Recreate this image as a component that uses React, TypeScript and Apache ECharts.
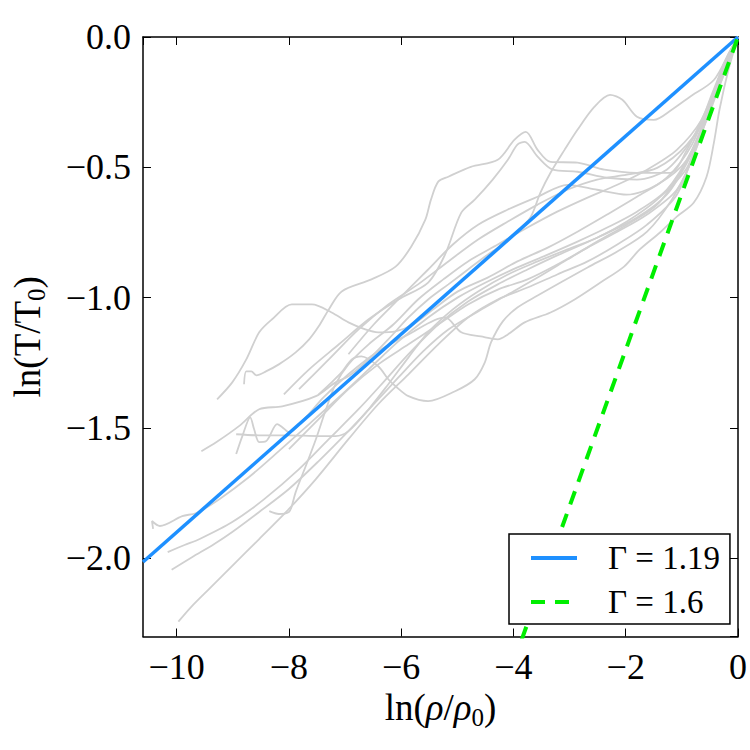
import React, { useEffect, useRef } from "react";
import * as echarts from "echarts";

// ---- data ----
const xRange: [number, number] = [-10.6, 0];
const yRange: [number, number] = [-2.3, 0];
const legendNames = ["Γ = 1.19", "Γ = 1.6"];
const fitLine: [number, number][] = [[-10.6, -2.014], [0, 0]];
const refLine: [number, number][] = [[-4.0, -2.4], [0, 0]];

const track01: [number, number][] = [[-9.97,-2.243],[-9.74,-2.186],[-9.42,-2.117],[-9.01,-2.029],[-8.53,-1.926],[-8.05,-1.822],[-7.52,-1.696],[-6.94,-1.543],[-6.41,-1.409],[-5.87,-1.294],[-5.34,-1.179],[-4.81,-1.076],[-4.28,-1.007],[-3.75,-0.961],[-3.22,-0.911],[-2.68,-0.861],[-2.15,-0.796],[-1.62,-0.720],[-1.09,-0.605],[-0.74,-0.413],[-0.42,-0.230],[-0.17,-0.088],[0,0]];
const track02: [number, number][] = [[-10.09,-2.044],[-9.72,-1.995],[-9.33,-1.945],[-9.01,-1.899],[-8.53,-1.822],[-8.00,-1.734],[-7.47,-1.627],[-6.94,-1.512],[-6.49,-1.409],[-6.05,-1.306],[-5.61,-1.206],[-5.16,-1.122],[-4.63,-1.053],[-4.10,-0.988],[-3.57,-0.923],[-3.04,-0.854],[-2.51,-0.785],[-1.98,-0.720],[-1.44,-0.643],[-1.00,-0.509],[-0.65,-0.356],[-0.35,-0.184],[0,0]];
const track03: [number, number][] = [[-10.16,-1.976],[-9.86,-1.949],[-9.59,-1.926],[-9.01,-1.861],[-8.44,-1.773],[-7.82,-1.658],[-7.29,-1.543],[-6.76,-1.428],[-6.32,-1.325],[-5.87,-1.217],[-5.34,-1.103],[-4.81,-1.015],[-4.28,-0.949],[-3.75,-0.892],[-3.22,-0.838],[-2.51,-0.770],[-1.80,-0.693],[-1.27,-0.605],[-0.88,-0.471],[-0.52,-0.299],[-0.24,-0.126],[0,0]];
const track04: [number, number][] = [[-10.42,-1.887],[-10.44,-1.857],[-10.30,-1.876],[-9.90,-1.838],[-9.65,-1.826],[-9.24,-1.773],[-8.71,-1.688],[-8.18,-1.589],[-7.64,-1.485],[-7.11,-1.382],[-6.58,-1.275],[-6.05,-1.168],[-5.52,-1.076],[-4.99,-0.999],[-4.46,-0.938],[-3.93,-0.884],[-3.39,-0.835],[-2.86,-0.785],[-2.33,-0.731],[-1.80,-0.670],[-1.27,-0.586],[-0.82,-0.433],[-0.47,-0.241],[-0.20,-0.096],[0,0]];
const track05: [number, number][] = [[-9.56,-1.589],[-9.29,-1.554],[-8.89,-1.493],[-8.53,-1.428],[-8.12,-1.417],[-7.52,-1.378],[-7.17,-1.325],[-6.94,-1.302],[-6.58,-1.237],[-6.23,-1.160],[-5.87,-1.076],[-5.52,-1.007],[-5.16,-0.949],[-4.81,-0.892],[-4.46,-0.835],[-4.19,-0.796],[-3.93,-0.747],[-3.69,-0.689],[-3.52,-0.597],[-3.34,-0.521],[-3.09,-0.433],[-2.86,-0.356],[-2.56,-0.268],[-2.28,-0.222],[-2.06,-0.241],[-1.80,-0.306],[-1.50,-0.318],[-1.18,-0.279],[-0.86,-0.230],[-0.43,-0.165],[-0.15,-0.057],[0,0]];
const track06: [number, number][] = [[-9.28,-1.390],[-9.01,-1.325],[-8.76,-1.237],[-8.53,-1.133],[-8.30,-1.083],[-7.95,-1.026],[-7.59,-1.026],[-7.24,-1.057],[-6.94,-1.095],[-6.64,-1.122],[-6.41,-1.133],[-6.10,-1.129],[-5.79,-1.103],[-5.43,-1.045],[-4.99,-0.976],[-4.46,-0.923],[-3.93,-0.861],[-3.39,-0.808],[-2.86,-0.747],[-2.33,-0.681],[-1.80,-0.613],[-1.27,-0.540],[-0.82,-0.413],[-0.47,-0.222],[-0.20,-0.080],[0,0]];
const track07: [number, number][] = [[-8.80,-1.332],[-8.76,-1.283],[-8.67,-1.283],[-8.58,-1.298],[-8.41,-1.283],[-8.18,-1.256],[-7.88,-1.210],[-7.64,-1.160],[-7.47,-1.110],[-7.29,-1.045],[-7.06,-0.976],[-6.53,-0.930],[-6.10,-0.881],[-5.82,-0.804],[-5.57,-0.701],[-5.47,-0.624],[-5.34,-0.555],[-5.16,-0.536],[-4.76,-0.498],[-4.28,-0.471],[-3.98,-0.394],[-3.78,-0.364],[-3.57,-0.433],[-3.34,-0.479],[-2.86,-0.482],[-2.38,-0.509],[-1.80,-0.521],[-1.21,-0.521],[-0.91,-0.433],[-0.65,-0.318],[-0.33,-0.165],[0,0]];
const track08: [number, number][] = [[-8.94,-1.600],[-8.83,-1.531],[-8.69,-1.459],[-8.62,-1.505],[-8.53,-1.554],[-8.41,-1.551],[-8.21,-1.485],[-8.12,-1.497],[-8.00,-1.516],[-7.73,-1.466],[-7.38,-1.382],[-6.94,-1.294],[-6.41,-1.206],[-5.87,-1.141],[-5.22,-1.076],[-4.93,-1.133],[-4.58,-1.149],[-4.28,-1.160],[-4.10,-1.141],[-3.80,-1.095],[-3.34,-1.057],[-2.91,-1.007],[-2.45,-0.942],[-2.03,-0.881],[-1.75,-0.815],[-1.39,-0.750],[-1.09,-0.689],[-0.79,-0.636],[-0.56,-0.536],[-0.43,-0.406],[-0.33,-0.279],[-0.17,-0.126],[0,0]];
const track09: [number, number][] = [[-8.35,-1.819],[-8.18,-1.830],[-8.00,-1.822],[-7.95,-1.800],[-7.88,-1.746],[-7.70,-1.646],[-7.52,-1.543],[-7.34,-1.428],[-7.17,-1.332],[-6.94,-1.256],[-6.58,-1.179],[-6.14,-1.103],[-5.70,-1.007],[-5.25,-0.930],[-4.81,-0.861],[-4.28,-0.796],[-3.75,-0.731],[-3.22,-0.670],[-2.68,-0.616],[-2.15,-0.567],[-1.62,-0.509],[-1.09,-0.433],[-0.65,-0.318],[-0.29,-0.145],[0,0]];
const track10: [number, number][] = [[-8.94,-1.524],[-8.53,-1.528],[-8.00,-1.528],[-7.47,-1.531],[-7.17,-1.531],[-6.94,-1.512],[-6.58,-1.428],[-6.23,-1.332],[-5.87,-1.229],[-5.52,-1.133],[-5.08,-1.045],[-4.63,-0.976],[-4.10,-0.911],[-3.57,-0.861],[-3.04,-0.815],[-2.51,-0.770],[-1.98,-0.708],[-1.44,-0.624],[-0.91,-0.502],[-0.56,-0.299],[-0.26,-0.119],[0,0]];
const track11: [number, number][] = [[-7.47,-1.371],[-7.24,-1.325],[-7.06,-1.286],[-6.88,-1.237],[-6.71,-1.225],[-6.41,-1.263],[-6.23,-1.313],[-6.10,-1.340],[-5.87,-1.378],[-5.52,-1.397],[-5.04,-1.359],[-4.69,-1.313],[-4.51,-1.248],[-4.40,-1.172],[-4.19,-1.091],[-3.93,-1.038],[-3.57,-0.992],[-3.13,-0.938],[-2.68,-0.884],[-2.15,-0.823],[-1.62,-0.747],[-1.18,-0.624],[-0.82,-0.471],[-0.50,-0.272],[-0.24,-0.126],[0,0]];
const track12: [number, number][] = [[-8.09,-1.371],[-7.64,-1.275],[-7.11,-1.179],[-6.58,-1.083],[-6.05,-1.007],[-5.52,-0.942],[-5.22,-0.835],[-4.93,-0.674],[-4.69,-0.624],[-4.37,-0.547],[-4.10,-0.471],[-3.93,-0.413],[-3.80,-0.402],[-3.57,-0.459],[-3.30,-0.509],[-2.86,-0.517],[-2.33,-0.540],[-1.80,-0.547],[-1.27,-0.509],[-0.82,-0.394],[-0.47,-0.260],[0,0]];
const track13: [number, number][] = [[-7.82,-1.351],[-7.29,-1.237],[-6.76,-1.122],[-6.23,-1.026],[-5.70,-0.949],[-5.16,-0.861],[-4.63,-0.777],[-4.10,-0.708],[-3.57,-0.643],[-3.04,-0.586],[-2.51,-0.547],[-1.98,-0.528],[-1.44,-0.502],[-0.91,-0.413],[-0.52,-0.279],[0,0]];
const track14: [number, number][] = [[-8.00,-1.581],[-7.47,-1.466],[-6.94,-1.351],[-6.41,-1.256],[-5.87,-1.179],[-5.34,-1.103],[-4.81,-1.026],[-4.28,-0.969],[-3.75,-0.930],[-3.22,-0.873],[-2.68,-0.808],[-2.15,-0.747],[-1.62,-0.681],[-1.09,-0.586],[-0.74,-0.425],[-0.45,-0.241],[-0.20,-0.088],[0,0]];
const track15: [number, number][] = [[-6.94,-1.217],[-6.49,-1.103],[-6.05,-1.007],[-5.52,-0.892],[-5.08,-0.796],[-4.63,-0.720],[-4.10,-0.662],[-3.57,-0.613],[-3.04,-0.567],[-2.51,-0.586],[-1.98,-0.605],[-1.44,-0.567],[-0.91,-0.471],[-0.56,-0.299],[-0.26,-0.107],[0,0]];

const tracks = [track01, track02, track03, track04, track05, track06, track07, track08, track09, track10, track11, track12, track13, track14, track15];

const FONT = "'Liberation Serif', 'DejaVu Serif', serif";

const minus = (s: string) => s.replace("-", "\u2212");

export default function App() {
  const ref = useRef<HTMLDivElement>(null);
  useEffect(() => {
    if (!ref.current) return;
    const chart = echarts.init(ref.current, undefined, { renderer: "svg" });
    const nameRich = {
      a: { fontSize: 37, fontFamily: FONT, color: "#000", lineHeight: 44 },
      i: { fontSize: 37, fontFamily: FONT, fontStyle: "italic", color: "#000", lineHeight: 44 },
      s: { fontSize: 25, fontFamily: FONT, color: "#000", verticalAlign: "bottom", lineHeight: 30 },
    };
    const frameLine = { show: true, onZero: false, lineStyle: { color: "#000", width: 1.5 } };
    const tick = { show: true, inside: true, length: 8, lineStyle: { color: "#000", width: 1 } };
    const grayStyle = { color: "#d0d0d0", width: 1.8 };
    const series: any[] = tracks.map((t, k) => ({
      name: "track" + (k + 1),
      type: "line",
      data: t,
      showSymbol: false,
      symbol: "none",
      smooth: 0.3,
      lineStyle: grayStyle,
      itemStyle: { color: "#d0d0d0" },
      z: 2,
      silent: true,
    }));
    series.push({
      name: legendNames[0],
      type: "line",
      data: fitLine,
      symbol: "none",
      lineStyle: { color: "#1e90ff", width: 3.5 },
      itemStyle: { color: "#1e90ff" },
      z: 3,
    });
    series.push({
      name: legendNames[1],
      type: "line",
      data: refLine,
      symbol: "none",
      lineStyle: { color: "#00ee00", width: 4, type: [14, 10] },
      itemStyle: { color: "#00ee00" },
      z: 4,
    });
    chart.setOption({
      animation: false,
      backgroundColor: "#fff",
      grid: { left: 143, right: 8.5, top: 37, bottom: 113.5, containLabel: false },
      legend: {
        data: legendNames,
        orient: "vertical",
        left: 509,
        top: 534,
        itemWidth: 46,
        itemHeight: 14,
        itemGap: 4,
        padding: [4, 10, 2, 20],
        backgroundColor: "#fff",
        borderColor: "#000",
        borderWidth: 1.5,
        borderRadius: 0,
        selectedMode: false,
        itemStyle: { opacity: 0, borderWidth: 0 },
        lineStyle: { width: 4 },
        textStyle: { fontSize: 33, fontFamily: FONT, color: "#000", lineHeight: 40, padding: [0, 0, 0, 26] },
        z: 10,
      },
      xAxis: [
        {
          type: "value",
          min: xRange[0],
          max: xRange[1],
          splitNumber: 5,
          position: "bottom",
          axisLine: frameLine,
          axisTick: tick,
          splitLine: { show: false },
          axisLabel: {
            showMinLabel: false,
            showMaxLabel: true,
            margin: 12,
            fontSize: 36,
            fontFamily: FONT,
            color: "#000",
            formatter: (v: number) => minus(String(v)),
          },
          name: "{a|ln(}{i|ρ}{a|/}{i|ρ}{s|0}{a|)}",
          nameLocation: "middle",
          nameGap: 46,
          nameTextStyle: { rich: nameRich },
        },
        {
          type: "value",
          min: xRange[0],
          max: xRange[1],
          splitNumber: 5,
          position: "top",
          axisLine: frameLine,
          axisTick: tick,
          splitLine: { show: false },
          axisLabel: { show: false },
        },
      ],
      yAxis: [
        {
          type: "value",
          min: yRange[0],
          max: yRange[1],
          splitNumber: 5,
          position: "left",
          axisLine: frameLine,
          axisTick: tick,
          splitLine: { show: false },
          axisLabel: {
            showMinLabel: false,
            showMaxLabel: true,
            margin: 12,
            fontSize: 36,
            fontFamily: FONT,
            color: "#000",
            formatter: (v: number) => minus(v.toFixed(1)),
          },
          name: "{a|ln(T/T}{s|0}{a|)}",
          nameLocation: "middle",
          nameRotate: 90,
          nameGap: 94,
          nameTextStyle: { rich: nameRich },
        },
        {
          type: "value",
          min: yRange[0],
          max: yRange[1],
          splitNumber: 5,
          position: "right",
          axisLine: frameLine,
          axisTick: tick,
          splitLine: { show: false },
          axisLabel: { show: false },
        },
      ],
      series,
    });
    return () => chart.dispose();
  }, []);
  return (
    <div
      ref={ref}
      style={{ position: "absolute", left: 0, top: 0, width: 750, height: 750, background: "#fff" }}
    />
  );
}
